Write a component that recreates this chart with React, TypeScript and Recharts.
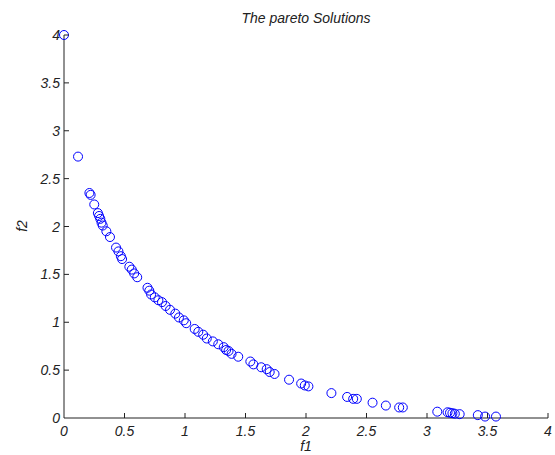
import React from 'react'
import { ScatterChart, Scatter, XAxis, YAxis } from 'recharts'

const FONT = "'Liberation Sans', Arial, sans-serif"
const AXIS = '#222'

// pareto front
const f1 = [0, 0.116, 0.21, 0.22, 0.25, 0.28, 0.29, 0.30, 0.31, 0.32, 0.35, 0.38, 0.43, 0.45, 0.47, 0.48, 0.54, 0.56, 0.58, 0.605,
  0.69, 0.705, 0.72, 0.75, 0.78, 0.81, 0.84, 0.876, 0.92, 0.95, 0.99, 1.01, 1.08, 1.11, 1.15, 1.18, 1.23, 1.275, 1.32, 1.34,
  1.36, 1.385, 1.44, 1.54, 1.565, 1.63, 1.675, 1.70, 1.74, 1.86, 1.96, 1.99, 2.02, 2.21, 2.34, 2.39, 2.42, 2.55, 2.66, 2.77,
  2.80, 3.085, 3.17, 3.19, 3.21, 3.23, 3.27, 3.42, 3.48, 3.57]
const f2 = [4, 2.73, 2.35, 2.33, 2.23, 2.14, 2.11, 2.08, 2.04, 2.01, 1.95, 1.89, 1.78, 1.74, 1.69, 1.66, 1.58, 1.55, 1.51, 1.47,
  1.36, 1.33, 1.29, 1.26, 1.23, 1.21, 1.17, 1.13, 1.09, 1.05, 1.02, 0.99, 0.93, 0.90, 0.87, 0.83, 0.80, 0.77, 0.74, 0.71,
  0.70, 0.67, 0.64, 0.59, 0.56, 0.53, 0.51, 0.48, 0.46, 0.40, 0.36, 0.34, 0.33, 0.26, 0.22, 0.20, 0.20, 0.16, 0.13, 0.11,
  0.11, 0.066, 0.06, 0.055, 0.05, 0.045, 0.04, 0.03, 0.015, 0.015]

const xTicks = [0, 0.5, 1, 1.5, 2, 2.5, 3, 3.5, 4]
const yTicks = [0, 0.5, 1, 1.5, 2, 2.5, 3, 3.5, 4]

const data = f1.map((x, i) => ({ f1: x, f2: f2[i] }))

const txt: React.CSSProperties = { position: 'absolute', fontFamily: FONT, fontStyle: 'italic', fontSize: 14, color: AXIS, lineHeight: '16px' }

function XTick({ x, y, payload }: any) {
  return (
    <g>
      {payload.value > 0 ? <line x1={x} x2={x} y1={y} y2={y-5} stroke={AXIS}/> : null}
      <text x={x} y={y} dy={18} textAnchor="middle" fill={AXIS} fontSize={14} fontStyle="italic" fontFamily={FONT}>{payload.value}</text>
    </g>
  )
}

function YTick({ x, y, payload }: any) {
  return (
    <g>
      {payload.value > 0 ? <line x1={x} x2={x+5} y1={y} y2={y} stroke={AXIS}/> : null}
      <text x={x-4} y={y} dy={5} textAnchor="end" fill={AXIS} fontSize={14} fontStyle="italic" fontFamily={FONT}>{payload.value}</text>
    </g>
  )
}

function Ring({ cx, cy }: any) {
  return <circle cx={cx} cy={cy} r={4.5} fill="none" stroke="#0000ff" strokeWidth={1}/>
}

export default function App() {
  return (
    <div style={{position:'absolute',left:0,top:0,width:555,height:455,background:'#fff'}}>
      <div style={{...txt,left:0,width:612,top:10,textAlign:'center'}}>The pareto Solutions</div>
      <ScatterChart width={555} height={455} margin={{top:35,right:7,bottom:0,left:0}}>
        <XAxis type="number" dataKey="f1" domain={[0,4]} ticks={xTicks} height={37} tickSize={0} tickMargin={0}
          tick={<XTick/>} axisLine={{stroke:AXIS}} tickLine={false}/>
        <YAxis type="number" dataKey="f2" domain={[0,4]} ticks={yTicks} width={64} tickSize={0} tickMargin={0}
          tick={<YTick/>} axisLine={{stroke:AXIS}} tickLine={false}/>
        <Scatter data={data} shape={<Ring/>} isAnimationActive={false}/>
      </ScatterChart>
      <div style={{...txt,left:298,top:438,width:16,textAlign:'center'}}>f1</div>
      <div style={{...txt,left:14,top:218,width:16,textAlign:'center',transform:'rotate(-90deg)'}}>f2</div>
    </div>
  )
}
